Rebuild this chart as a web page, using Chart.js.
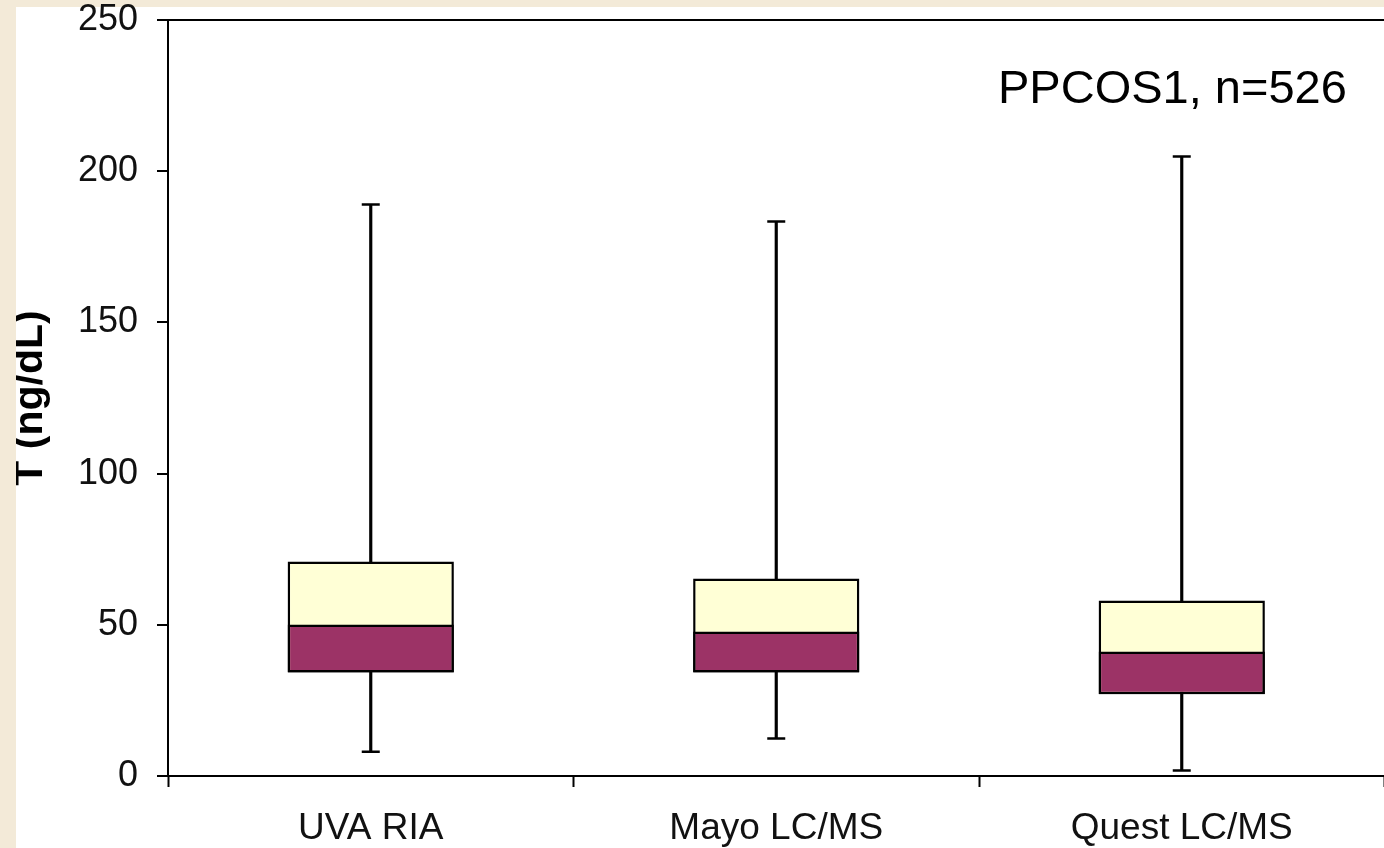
<!DOCTYPE html>
<html>
<head>
<meta charset="utf-8">
<script src="https://cdn.jsdelivr.net/npm/chart.js@4"></script>
<style>
html,body{margin:0;padding:0;width:1384px;height:848px;overflow:hidden;background:#f3ead8;}
#panel{position:absolute;left:16px;top:7px;width:1380px;height:841px;background:#fff;}
#wrap{position:absolute;left:16px;top:0;width:1380px;height:848px;}
</style>
</head>
<body>
<div id="panel"></div>
<div id="wrap"><canvas id="boxChart" width="1380" height="848"></canvas></div>
<script>
const labels = ["UVA RIA", "Mayo LC/MS", "Quest LC/MS"];
const minVals = [8, 12.4, 1.8];
const q1Vals = [34.2, 34.2, 27];
const medianVals = [50.1, 47.8, 41.2];
const q3Vals = [70.9, 65.3, 58];
const maxVals = [189, 183.4, 204.9];
const yTicks = [0, 50, 100, 150, 200, 250];
const note = "PPCOS1, n=526";

const tickFont = {family: "Liberation Sans, Arial, sans-serif", size: 36};

const notePlugin = {
  id: "note",
  afterDraw(chart) {
    const ctx = chart.ctx;
    ctx.save();
    ctx.fillStyle = "#000";
    ctx.font = "47px Liberation Sans, Arial, sans-serif";
    ctx.textBaseline = "alphabetic";
    ctx.fillText(note, chart.chartArea.left + 830, chart.chartArea.top + 83);
    ctx.restore();
  }
};

new Chart(document.getElementById("boxChart"), {
  type: "bar",
  data: {
    labels: labels,
    datasets: [
      {
        type: "line",
        label: "max",
        data: maxVals,
        showLine: false,
        pointStyle: "line",
        pointRadius: 9,
        pointBorderWidth: 2.5,
        borderColor: "#000",
        order: 0
      },
      {
        type: "line",
        label: "min",
        data: minVals,
        showLine: false,
        pointStyle: "line",
        pointRadius: 9,
        pointBorderWidth: 2.5,
        borderColor: "#000",
        order: 0
      },
      {
        label: "Q1-median",
        data: q1Vals.map((v, i) => [v, medianVals[i]]),
        backgroundColor: "#9c3366",
        borderColor: "#000",
        borderWidth: 2.5,
        borderSkipped: false,
        barPercentage: 0.41,
        categoryPercentage: 1,
        grouped: false,
        order: 1
      },
      {
        label: "Q1-Q3",
        data: q1Vals.map((v, i) => [v, q3Vals[i]]),
        backgroundColor: "#ffffd6",
        borderColor: "#000",
        borderWidth: 2.5,
        borderSkipped: false,
        barPercentage: 0.41,
        categoryPercentage: 1,
        grouped: false,
        order: 2
      },
      {
        label: "whisker",
        data: minVals.map((v, i) => [v, maxVals[i]]),
        backgroundColor: "#000",
        borderWidth: 0,
        barThickness: 2.5,
        grouped: false,
        order: 3
      }
    ]
  },
  options: {
    responsive: false,
    animation: false,
    layout: {padding: {top: 20, right: 0, bottom: 0, left: 0}},
    plugins: {
      legend: {display: false},
      tooltip: {enabled: false}
    },
    scales: {
      x: {
        offset: true,
        grid: {
          offset: true,
          drawOnChartArea: false,
          drawTicks: true,
          tickLength: 11,
          tickColor: "#000",
          tickWidth: 2
        },
        border: {display: true, color: "#000", width: 2},
        ticks: {color: "#111", font: {family: "Liberation Sans, Arial, sans-serif", size: 37}, padding: 20, maxRotation: 0},
        afterFit(scale) {
          scale.height = 72;
          scale.paddingLeft = 0;
          scale.paddingRight = 0;
        }
      },
      y: {
        min: 0,
        max: 250,
        afterBuildTicks(scale) { scale.ticks = yTicks.map(v => ({value: v})); },
        grid: {
          drawOnChartArea: true,
          color: ctx => (ctx.tick && ctx.tick.value === 250 ? "#000" : "rgba(0,0,0,0)"),
          lineWidth: 2,
          tickLength: 11,
          tickColor: "#000",
          tickWidth: 2
        },
        border: {display: true, color: "#000", width: 2},
        ticks: {color: "#111", font: tickFont, padding: 19},
        title: {
          display: true,
          text: "T (ng/dL)",
          color: "#000",
          font: {family: "Liberation Sans, Arial, sans-serif", size: 41, weight: "bold", lineHeight: 0.7},
          padding: 0
        },
        afterFit(scale) {
          scale.width = 152;
          scale.paddingTop = 0;
          scale.paddingBottom = 0;
        }
      }
    }
  },
  plugins: [notePlugin]
});
</script>
</body>
</html>
